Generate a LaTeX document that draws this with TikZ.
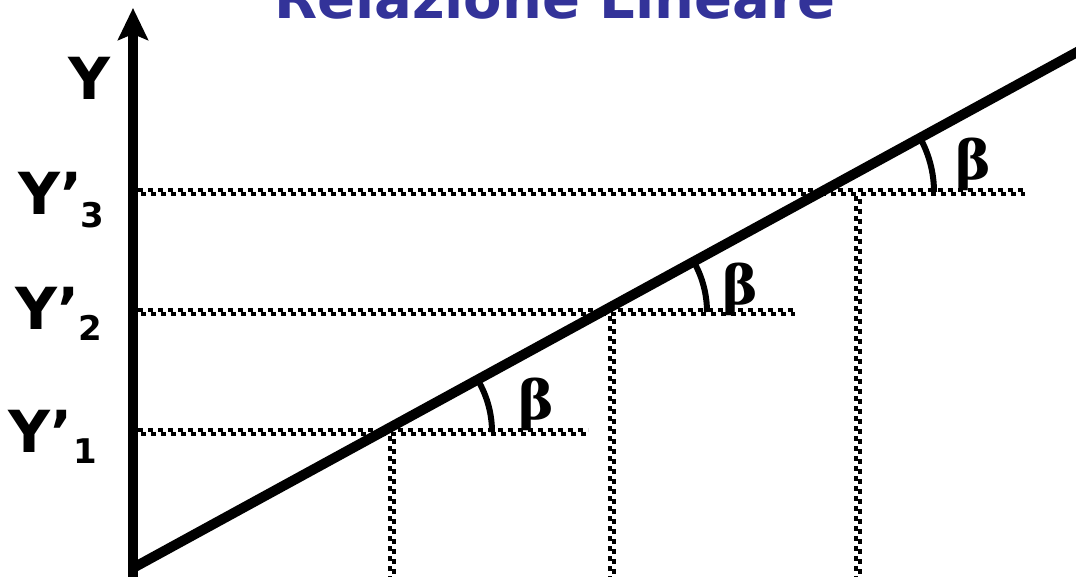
\documentclass[tikz,border=0pt]{standalone}
\usepackage{fontspec}
\newfontfamily\lblfont{DejaVu Sans Bold}
\newfontfamily\betafont{DejaVu Serif Bold}
\usetikzlibrary{arrows.meta}
\definecolor{ttl}{RGB}{51,51,153}
\tikzset{
  chk/.style={line width=4pt, dash pattern=on 5pt off 5pt},
  ang/.style={line width=6pt},
  lbl/.style={font=\lblfont\fontsize{58}{60}\selectfont, inner sep=0pt, anchor=base west},
  sub/.style={font=\lblfont\fontsize{34}{36}\selectfont, inner sep=0pt, anchor=base west},
  bet/.style={font=\betafont\fontsize{54}{56}\selectfont, inner sep=0pt, anchor=base west},
}
\newcommand\chkh[3]{% y x1 x2
  \draw[chk] (#2,#1-2) -- (#3,#1-2);
  \draw[chk,dash phase=-3pt] (#2,#1+2) -- (#3,#1+2);}
\newcommand\chkv[3]{% x y1 y2
  \draw[chk] (#1-2,#2) -- (#1-2,#3);
  \draw[chk,dash phase=-3pt] (#1+2,#2) -- (#1+2,#3);}
\begin{document}
\begin{tikzpicture}[x=1pt,y=-1pt]
\useasboundingbox (0,0) rectangle (1076,577);
\clip (0,0) rectangle (1076,577);
% title
\node[font=\lblfont\fontsize{56}{58}\selectfont, text=ttl, inner sep=0pt, anchor=base] (title) at (555,19) {Relazione Lineare};
% coordinates
\coordinate (o) at (133,577);
\coordinate (top) at (133,8);
\coordinate (l0) at (133,568);
\coordinate (l1) at (1090,45);
% dotted lines
\chkh{192}{138}{1025}
\chkh{312}{138}{795}
\chkh{432}{138}{588}
\chkv{392}{436}{577}
\chkv{612}{316}{577}
\chkv{858}{196}{577}
% axis
\draw[line width=10pt, -{Stealth[width=30pt,length=32pt,inset=6pt]}] (o) -- (top);
% main line
\draw[line width=10pt] (l0) -- (l1);
% angles
\coordinate (c1) at (390,432);
\coordinate (c2) at (605,312);
\coordinate (c3) at (822,192);
\draw[ang] (c1) ++(-28.6:102) arc[start angle=-28.6, end angle=0, radius=102];
\draw[ang] (c2) ++(-28.6:102) arc[start angle=-28.6, end angle=0, radius=102];
\draw[ang] (c3) ++(-28.6:112) arc[start angle=-28.6, end angle=0, radius=112];
% betas
\node[bet] (b1) at (518,419) {β};
\node[bet] (b2) at (722,305) {β};
\node[bet] (b3) at (955,180) {β};
% labels
\node[lbl] (y) at (68,100) {Y};
\node[lbl] (y3) at (18,215) {Y’};
\node[sub] (s3) at (80,228) {3};
\node[lbl] (y2) at (15,330) {Y’};
\node[sub] (s2) at (78,341) {2};
\node[lbl] (y1) at (8,452) {Y’};
\node[sub] (s1) at (73,463) {1};
\end{tikzpicture}
\end{document}
